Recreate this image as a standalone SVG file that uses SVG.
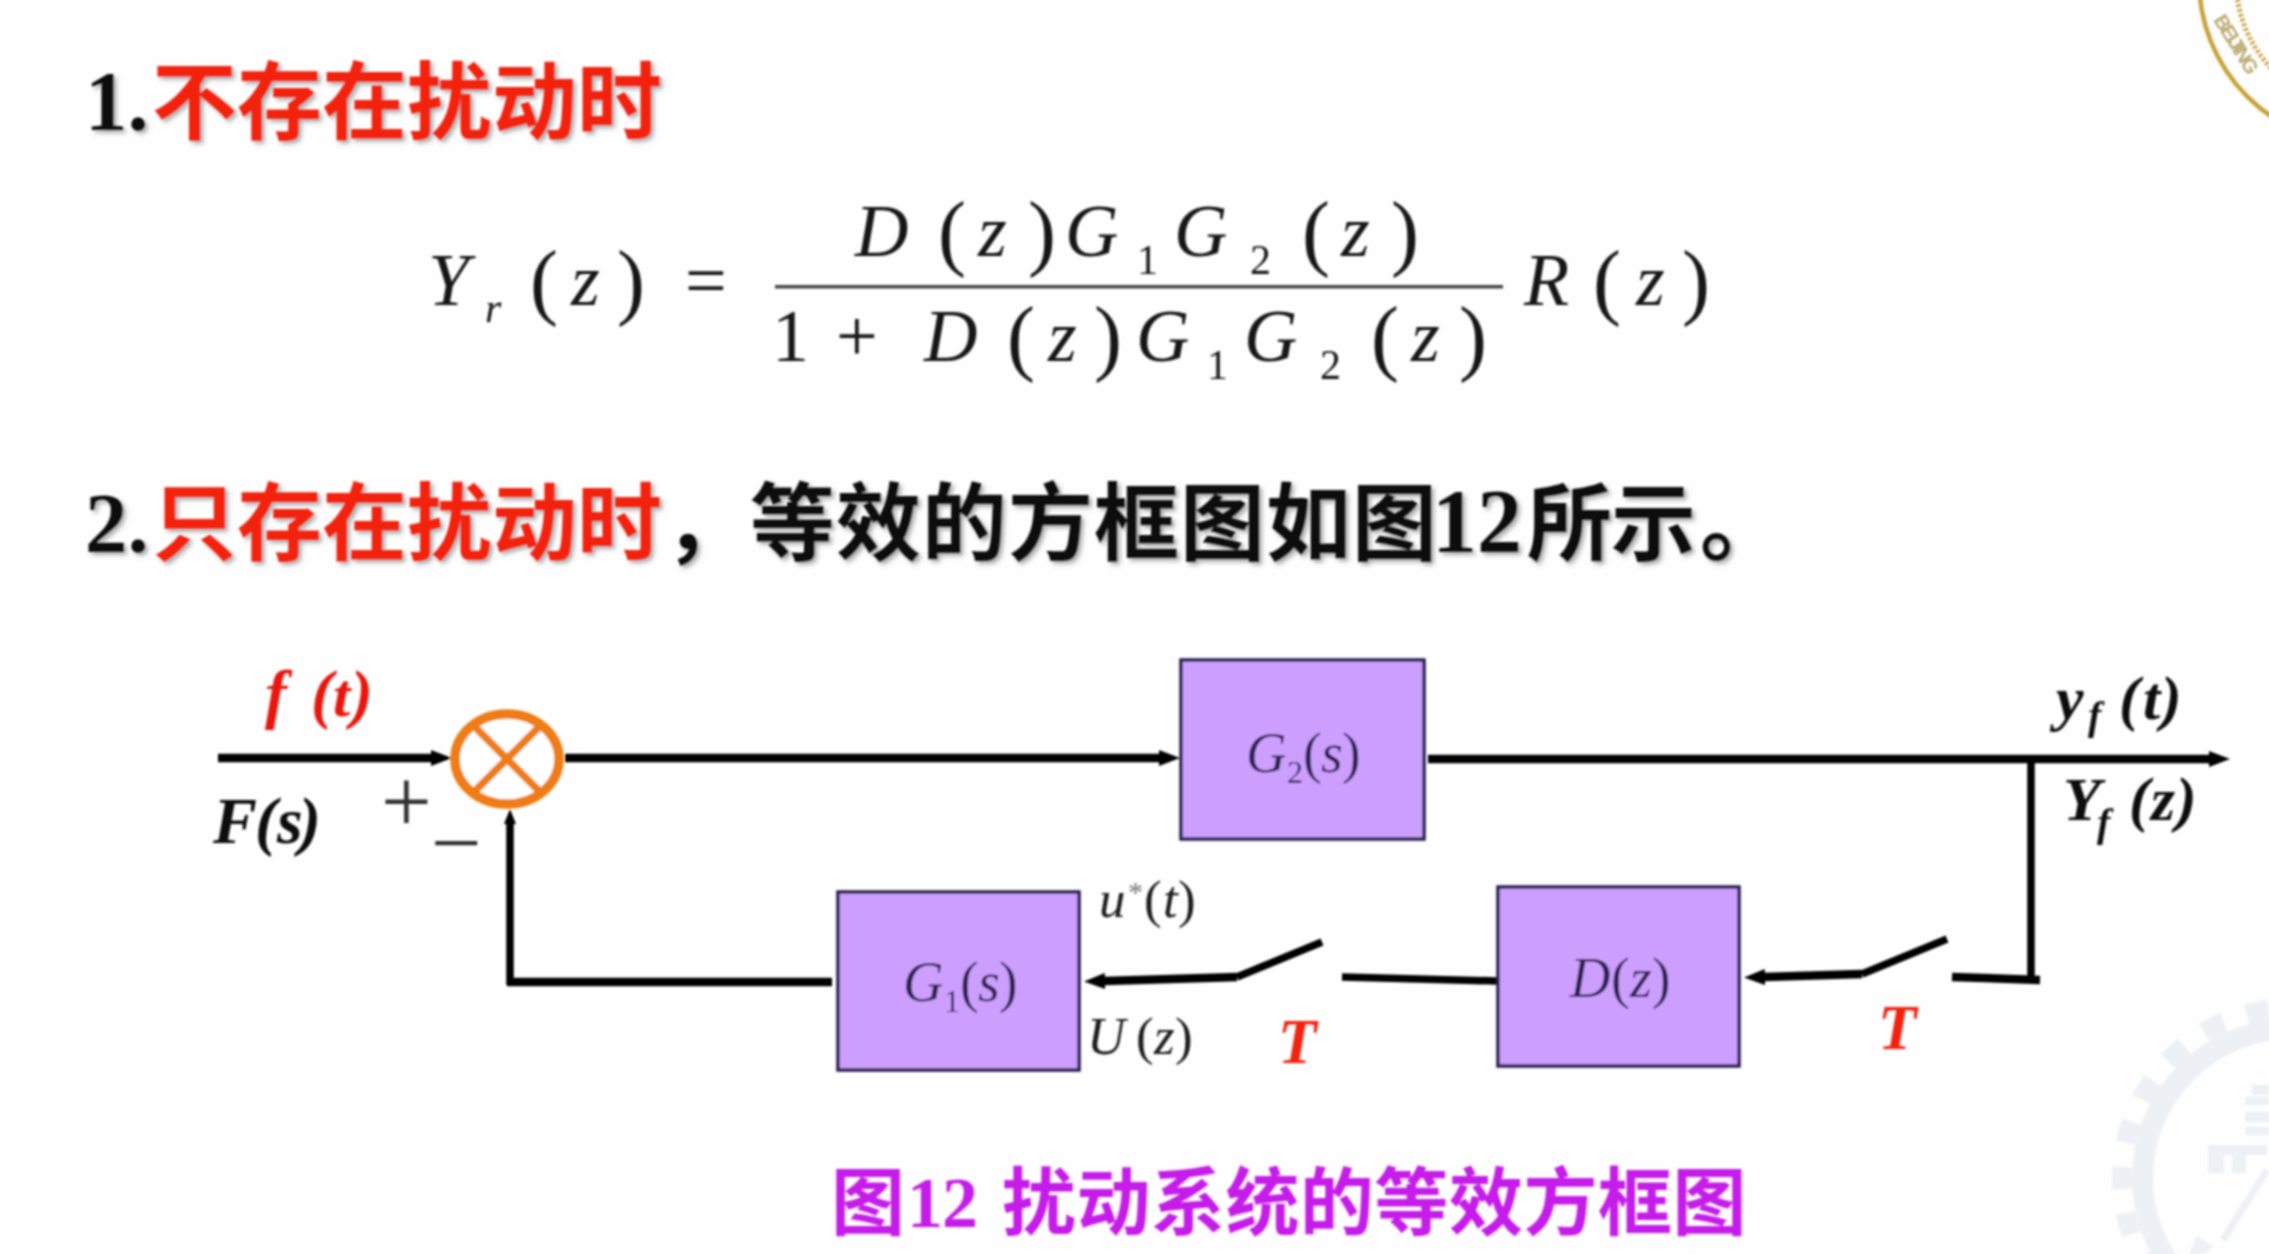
<svg xmlns="http://www.w3.org/2000/svg" width="2269" height="1254" viewBox="0 0 2269 1254">
<defs>
<style>
.cjk{font-family:"Noto Sans CJK SC","Liberation Sans",sans-serif;font-weight:700}
.hd{font-size:85px}
.num{font-family:"Liberation Serif","Noto Sans CJK SC",serif;font-weight:700}
.red{fill:#f3200c}
.blk{fill:#111}
.m{font-family:"Liberation Serif",serif;font-size:74px;fill:#151515}
.mi{font-style:italic}
.p{font-size:84px}
.sub{font-size:42px}
.box{fill:#cc9fff;stroke:#2a2050;stroke-width:3.5}
.bl{font-family:"Liberation Serif",serif;font-style:italic;fill:#2a2050;font-size:56px}
.lab{font-family:"Liberation Serif",serif;font-style:italic;fill:#1c1c1c;font-size:53px}
.bi{font-family:"Liberation Serif",serif;font-style:italic;font-weight:700;fill:#111;font-size:62px}
.w{fill:none;stroke:#000;stroke-width:8.500}
.th{stroke-width:7.500}
.wm{fill:#edf0f4}
</style>
<marker id="arrow" markerUnits="userSpaceOnUse" markerWidth="24" markerHeight="20" refX="1" refY="10" orient="auto"><path d="M0,2 L21,10 L0,18 Z" fill="#000"/></marker>
<marker id="arrowS" markerUnits="userSpaceOnUse" markerWidth="18" markerHeight="16" refX="1" refY="8" orient="auto"><path d="M0,2 L15,8 L0,14 Z" fill="#000"/></marker>
<filter id="sh" x="-5%" y="-15%" width="110%" height="130%"><feDropShadow dx="3" dy="3" stdDeviation="2" flood-color="#777" flood-opacity="0.6"/></filter>
<filter id="soft" x="0" y="0" width="100%" height="100%"><feGaussianBlur stdDeviation="0.8"/></filter>
</defs>
<rect width="2269" height="1254" fill="#fefefe"/>
<g filter="url(#soft)">
<g id="seal" fill="none" stroke="#c9a137">
<circle cx="2364" cy="-20" r="165" stroke-width="4.500"/>
<circle cx="2364" cy="-20" r="128" stroke-width="5" stroke-dasharray="2.500 2.500"/>
<text x="2213" y="20" transform="rotate(58 2213 20)" font-family="Liberation Sans,sans-serif" font-size="20" font-weight="700" fill="#b9ab70" stroke="none" textLength="66">BEIJING</text>
</g>
<g id="gear">
<circle cx="2292" cy="1178" r="149.500" fill="none" stroke="#edf0f4" stroke-width="21"/>
<circle cx="2292" cy="1178" r="170" fill="none" stroke="#edf0f4" stroke-width="20" stroke-dasharray="22 24.400" stroke-dashoffset="-12.600"/>
<path class="wm" d="M2245,1097h24v8h-24zM2252,1085h17v10h-17zM2245,1112h24v10h-24zM2245,1127h24v8h-24zM2208,1145h59v10h-43v18h-16zM2232,1155h14v18h-14z"/>
<path d="M2267,1170L2223,1240" fill="none" stroke="#edf0f4" stroke-width="7"/>
<path class="wm" d="M2197,1236l16,10l-8,8h-16z"/>
</g>
<g id="heading1" filter="url(#sh)">
<text y="130" class="num blk hd" x="85">1.</text>
<text y="133" class="cjk red hd" x="152 237 322 407 492 577">不存在扰动时</text>
</g>
<g id="formula">
<text class="m" y="305"><tspan class="mi" x="428">Y</tspan><tspan class="mi sub" x="485" y="322">r</tspan><tspan class="p" x="530" y="309">(</tspan><tspan class="mi" x="571" y="305">z</tspan><tspan class="p" x="617" y="309">)</tspan><tspan x="685" y="305">=</tspan></text>
<text class="m" y="256"><tspan class="mi" x="855">D</tspan><tspan class="p" x="938" y="260">(</tspan><tspan class="mi" x="978" y="256">z</tspan><tspan class="p" x="1028" y="260">)</tspan><tspan class="mi" x="1065" y="256">G</tspan><tspan class="sub" x="1137" y="274">1</tspan><tspan class="mi" x="1174" y="256">G</tspan><tspan class="sub" x="1250" y="274">2</tspan><tspan class="p" x="1302" y="260">(</tspan><tspan class="mi" x="1341" y="256">z</tspan><tspan class="p" x="1391" y="260">)</tspan></text>
<text class="m" y="361"><tspan x="772">1</tspan><tspan x="836">+</tspan><tspan class="mi" x="924">D</tspan><tspan class="p" x="1007" y="365">(</tspan><tspan class="mi" x="1048" y="361">z</tspan><tspan class="p" x="1094" y="365">)</tspan><tspan class="mi" x="1136" y="361">G</tspan><tspan class="sub" x="1207" y="379">1</tspan><tspan class="mi" x="1244" y="361">G</tspan><tspan class="sub" x="1320" y="379">2</tspan><tspan class="p" x="1371" y="365">(</tspan><tspan class="mi" x="1411" y="361">z</tspan><tspan class="p" x="1459" y="365">)</tspan></text>
<rect x="775" y="285" width="728" height="3.500" fill="#444"/>
<text class="m" y="305"><tspan class="mi" x="1524">R</tspan><tspan class="p" x="1593" y="309">(</tspan><tspan class="mi" x="1636" y="305">z</tspan><tspan class="p" x="1682" y="309">)</tspan></text>
</g>
<g id="heading2" filter="url(#sh)">
<text y="552" class="num blk hd" x="85">2.</text>
<text y="554" class="cjk red hd" x="152 237 322 407 492 577">只存在扰动时</text>
<text y="554" class="cjk blk hd" x="664 750 836 922 1008 1094 1180 1266 1352">，等效的方框图如图</text>
<text y="552" class="num blk" style="font-size:90px" x="1432 1477">12</text>
<text y="554" class="cjk blk hd" x="1527 1611 1700">所示。</text>
</g>
<g id="connectors">
<path class="w" d="M218,758H432" marker-end="url(#arrow)"/>
<path class="w" d="M565,758H1160" marker-end="url(#arrow)"/>
<path class="w" d="M1428,759H2210" marker-end="url(#arrow)"/>
<path class="w th" d="M2031,759V982"/>
<path class="w" d="M1952,977L2040,980"/>
<path class="w th" d="M1947,939L1862,974"/>
<path class="w" d="M1862,974L1764,977" marker-end="url(#arrow)"/>
<path class="w th" d="M1497,981L1342,977"/>
<path class="w th" d="M1322,942L1237,977"/>
<path class="w" d="M1237,977L1104,981" marker-end="url(#arrow)"/>
<path class="w" d="M832,982H507"/>
<path class="w th" d="M510,985V823" marker-end="url(#arrowS)"/>
</g>
<g id="sum">
<ellipse cx="507" cy="759" rx="52" ry="45" fill="#fff" stroke="#ef7d12" stroke-width="9.500"/>
<path d="M474,726L540,792M540,726L474,792" fill="none" stroke="#ef7d12" stroke-width="7.500"/>
</g>
<g id="G2"><rect class="box" x="1181" y="660" width="243" height="179"/>
<text class="bl" y="772"><tspan x="1246">G</tspan><tspan style="font-style:normal;font-size:32px" x="1287" y="783">2</tspan><tspan style="font-style:normal" x="1303" y="772">(</tspan><tspan x="1321">s</tspan><tspan style="font-style:normal" x="1342">)</tspan></text></g>
<g id="G1"><rect class="box" x="838" y="892" width="241" height="178"/>
<text class="bl" y="1001"><tspan x="903">G</tspan><tspan style="font-style:normal;font-size:32px" x="944" y="1012">1</tspan><tspan style="font-style:normal" x="960" y="1001">(</tspan><tspan x="978">s</tspan><tspan style="font-style:normal" x="999">)</tspan></text></g>
<g id="D"><rect class="box" x="1498" y="887" width="241" height="179"/>
<text class="bl" y="997"><tspan x="1570">D</tspan><tspan style="font-style:normal" x="1611">(</tspan><tspan x="1630">z</tspan><tspan style="font-style:normal" x="1652">)</tspan></text></g>
<g id="labels">
<text class="bi" y="716" style="fill:#e8150c"><tspan x="265" style="font-size:66px">f</tspan><tspan x="311" style="font-size:66px">(</tspan><tspan x="333">t</tspan><tspan x="351" style="font-size:66px">)</tspan></text>
<text class="bi" y="843" style="font-size:66px"><tspan x="213">F</tspan><tspan x="255">(</tspan><tspan x="277">s</tspan><tspan x="299">)</tspan></text>
<text x="381" y="832" font-family="Liberation Serif,serif" font-size="90" fill="#333">+</text>
<text x="431" y="873" font-family="Liberation Serif,serif" font-size="90" fill="#333">−</text>
<text class="lab" y="917"><tspan x="1099">u</tspan><tspan style="font-size:30px;fill:#777;font-style:normal" x="1128" y="902">*</tspan><tspan style="font-style:normal" x="1144" y="917">(</tspan><tspan x="1163">t</tspan><tspan style="font-style:normal" x="1178">)</tspan></text>
<text class="lab" y="1054"><tspan x="1087">U</tspan><tspan style="font-style:normal" x="1136">(</tspan><tspan x="1154">z</tspan><tspan style="font-style:normal" x="1175">)</tspan></text>
<text class="bi" x="1278" y="1063" style="fill:#f3200c;font-size:63px">T</text>
<text class="bi" x="1878" y="1049" style="fill:#f3200c;font-size:63px">T</text>
<text class="bi" y="719"><tspan x="2056">y</tspan><tspan style="font-size:40px" x="2088" y="729">f</tspan><tspan x="2119" y="719">(</tspan><tspan x="2143">t</tspan><tspan x="2161">)</tspan></text>
<text class="bi" y="820"><tspan x="2063">Y</tspan><tspan style="font-size:40px" x="2097" y="836">f</tspan><tspan x="2129" y="820">(</tspan><tspan x="2151">z</tspan><tspan x="2176">)</tspan></text>
</g>
<g id="caption" fill="#c51fe9" style="font-size:74px">
<text class="cjk" x="831" y="1229">图</text>
<text class="num" x="907 942" y="1227" style="font-size:72px">12</text>
<text class="cjk" x="1002 1076.500 1151 1225.500 1300 1374.500 1449 1523.500 1598 1672.500" y="1229">扰动系统的等效方框图</text>
</g>
</g>
</svg>
